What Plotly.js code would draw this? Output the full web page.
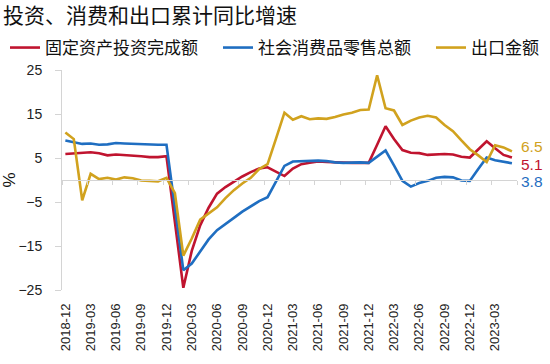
<!DOCTYPE html>
<html>
<head>
<meta charset="utf-8">
<script src="https://cdn.plot.ly/plotly-3.0.1.min.js"></script>
<style>html,body{margin:0;padding:0;background:#fff;}#chart{width:550px;height:364px;}</style>
</head>
<body>
<div id="chart"></div>
<script>
// Months (x categories), 2018-12 .. 2023-05
var months = ["2018-12","2019-01","2019-02","2019-03","2019-04","2019-05","2019-06","2019-07","2019-08","2019-09","2019-10","2019-11","2019-12",
"2020-01","2020-02","2020-03","2020-04","2020-05","2020-06","2020-07","2020-08","2020-09","2020-10","2020-11","2020-12",
"2021-01","2021-02","2021-03","2021-04","2021-05","2021-06","2021-07","2021-08","2021-09","2021-10","2021-11","2021-12",
"2022-01","2022-02","2022-03","2022-04","2022-05","2022-06","2022-07","2022-08","2022-09","2022-10","2022-11","2022-12",
"2023-01","2023-02","2023-03","2023-04","2023-05"];

// 固定资产投资完成额
var fai = [5.9,6.0,6.1,6.3,6.1,5.6,5.8,5.7,5.5,5.4,5.2,5.2,5.4,
-10.0,-24.5,-16.1,-10.3,-6.3,-3.1,-1.6,-0.3,0.8,1.8,2.6,2.9,
1.9,0.9,2.6,3.6,3.9,4.2,4.1,4.0,3.9,3.9,3.9,3.9,
8.0,12.2,9.3,6.8,6.2,6.1,5.7,5.8,5.9,5.8,5.3,5.1,
7.0,8.8,7.2,5.7,5.1];

// 社会消费品零售总额
var retail = [9.0,8.6,8.2,8.3,8.0,8.1,8.4,8.3,8.2,8.2,8.1,8.0,8.0,
-6.0,-20.5,-19.0,-16.2,-13.5,-11.4,-9.9,-8.6,-7.2,-5.9,-4.8,-3.9,
-0.4,3.2,4.2,4.3,4.3,4.4,4.3,4.0,3.9,4.0,4.0,3.9,
5.3,6.7,3.3,-0.2,-1.5,-0.7,-0.2,0.5,0.7,0.6,-0.1,-0.2,
2.5,5.1,4.5,4.1,3.8];

// 出口金额
var exports_ = [10.8,9.3,-4.6,1.4,0.2,0.5,0.1,0.6,0.4,-0.1,-0.2,-0.3,0.5,
-3.0,-17.2,-13.3,-9.0,-7.7,-6.2,-4.1,-2.3,-0.8,0.5,2.5,3.6,
9.4,15.3,13.7,14.5,13.8,14.0,13.9,14.3,14.9,15.3,15.9,16.0,
23.8,16.3,15.8,12.5,13.5,14.2,14.6,14.2,12.5,11.1,9.0,7.0,
5.6,4.1,7.9,7.4,6.5];

var seriesNames = ["固定资产投资完成额","社会消费品零售总额","出口金额"];
var seriesColors = ["#C0142F","#1F6EC1","#D1A21E"];
var yTicks = [-25,-15,-5,5,15,25];
var labelStep = 3;

var idx = months.map(function(_, i){ return i; });
var xRange = [-0.4, months.length - 0.4];
var yRange = [-25, 25];

var tickIdx = [], tickText = [];
for (var i = 0; i < months.length; i += labelStep) { tickIdx.push(i); tickText.push(months[i]); }
var bounds = [];
for (var b = xRange[0]; b <= xRange[1] + 1e-9; b += labelStep) bounds.push(b);

var data = [fai, retail, exports_];
var legendIds = ['legend', 'legend2', 'legend3'];
var traces = data.map(function(arr, k){
  return {x: idx, y: arr, type: 'scatter', mode: 'lines', name: seriesNames[k], legend: legendIds[k],
          line: {color: seriesColors[k], width: 2.6}, hoverinfo: 'skip'};
});
// carrier trace for the zero-line tick axis
traces.push({x: idx, y: fai, xaxis: 'x2', yaxis: 'y', mode: 'lines', line: {width: 0},
             opacity: 0, showlegend: false, hoverinfo: 'skip'});

var labelShift = [-7, -18.7, 4.6];  // px offsets of end labels (fai, retail, exports)
var annotations = data.map(function(arr, k){
  return {xref: 'paper', x: 1, xanchor: 'left', xshift: 3, yref: 'y', y: arr[arr.length-1],
          yshift: labelShift[k], yanchor: 'middle', showarrow: false, borderpad: 0,
          text: arr[arr.length-1].toFixed(1),
          font: {family: 'Liberation Sans, Arial, sans-serif', size: 15.5, color: seriesColors[k]}};
});

function legendAt(px) {
  return {orientation: 'h', xref: 'container', yref: 'container', x: px/550, xanchor: 'left',
          y: 1 - 48/364, yanchor: 'middle',
          font: {family: 'Noto Sans CJK SC, sans-serif', size: 17, color: '#111'},
          bgcolor: 'rgba(0,0,0,0)'};
}

var layout = {
  width: 550, height: 364,
  margin: {l: 62, r: 33, t: 70, b: 74},
  paper_bgcolor: '#ffffff', plot_bgcolor: '#ffffff',
  title: {text: '投资、消费和出口累计同比增速', x: 3/550, xref: 'container', xanchor: 'left',
          y: 1 - 16/364, yref: 'container', yanchor: 'middle',
          font: {family: 'Noto Sans CJK SC, sans-serif', size: 21, color: '#111'}},
  showlegend: true,
  legend: legendAt(5),
  legend2: legendAt(218),
  legend3: legendAt(431),
  xaxis: {type: 'linear', range: xRange, tickmode: 'array', tickvals: tickIdx, ticktext: tickText,
          tickangle: -90, ticks: '', showline: false, showgrid: false, zeroline: false,
          ticklabelstandoff: 10,
          tickfont: {family: 'Liberation Sans, Arial, sans-serif', size: 13, color: '#222'}},
  xaxis2: {type: 'linear', overlaying: 'x', anchor: 'free',
           position: (0 - yRange[0]) / (yRange[1] - yRange[0]), side: 'bottom',
           range: xRange, tickmode: 'array', tickvals: bounds, ticks: 'outside', ticklen: 4,
           tickcolor: '#d4d4d4', tickwidth: 1, showline: true, linecolor: '#d4d4d4', linewidth: 1,
           showticklabels: false, showgrid: false, zeroline: false},
  yaxis: {range: yRange, tickmode: 'array', tickvals: yTicks, ticks: 'outside', ticklen: 6,
          tickcolor: '#d4d4d4', showline: true, linecolor: '#d4d4d4', linewidth: 1,
          showgrid: false, zeroline: false, ticklabelstandoff: 10,
          tickfont: {family: 'Liberation Sans, Arial, sans-serif', size: 14, color: '#222'},
          title: {text: '%', standoff: 6, font: {family: 'Liberation Sans, Arial, sans-serif', size: 17, color: '#111'}}},
  annotations: annotations
};

Plotly.newPlot('chart', traces, layout, {displayModeBar: false, staticPlot: true});
</script>
</body>
</html>
